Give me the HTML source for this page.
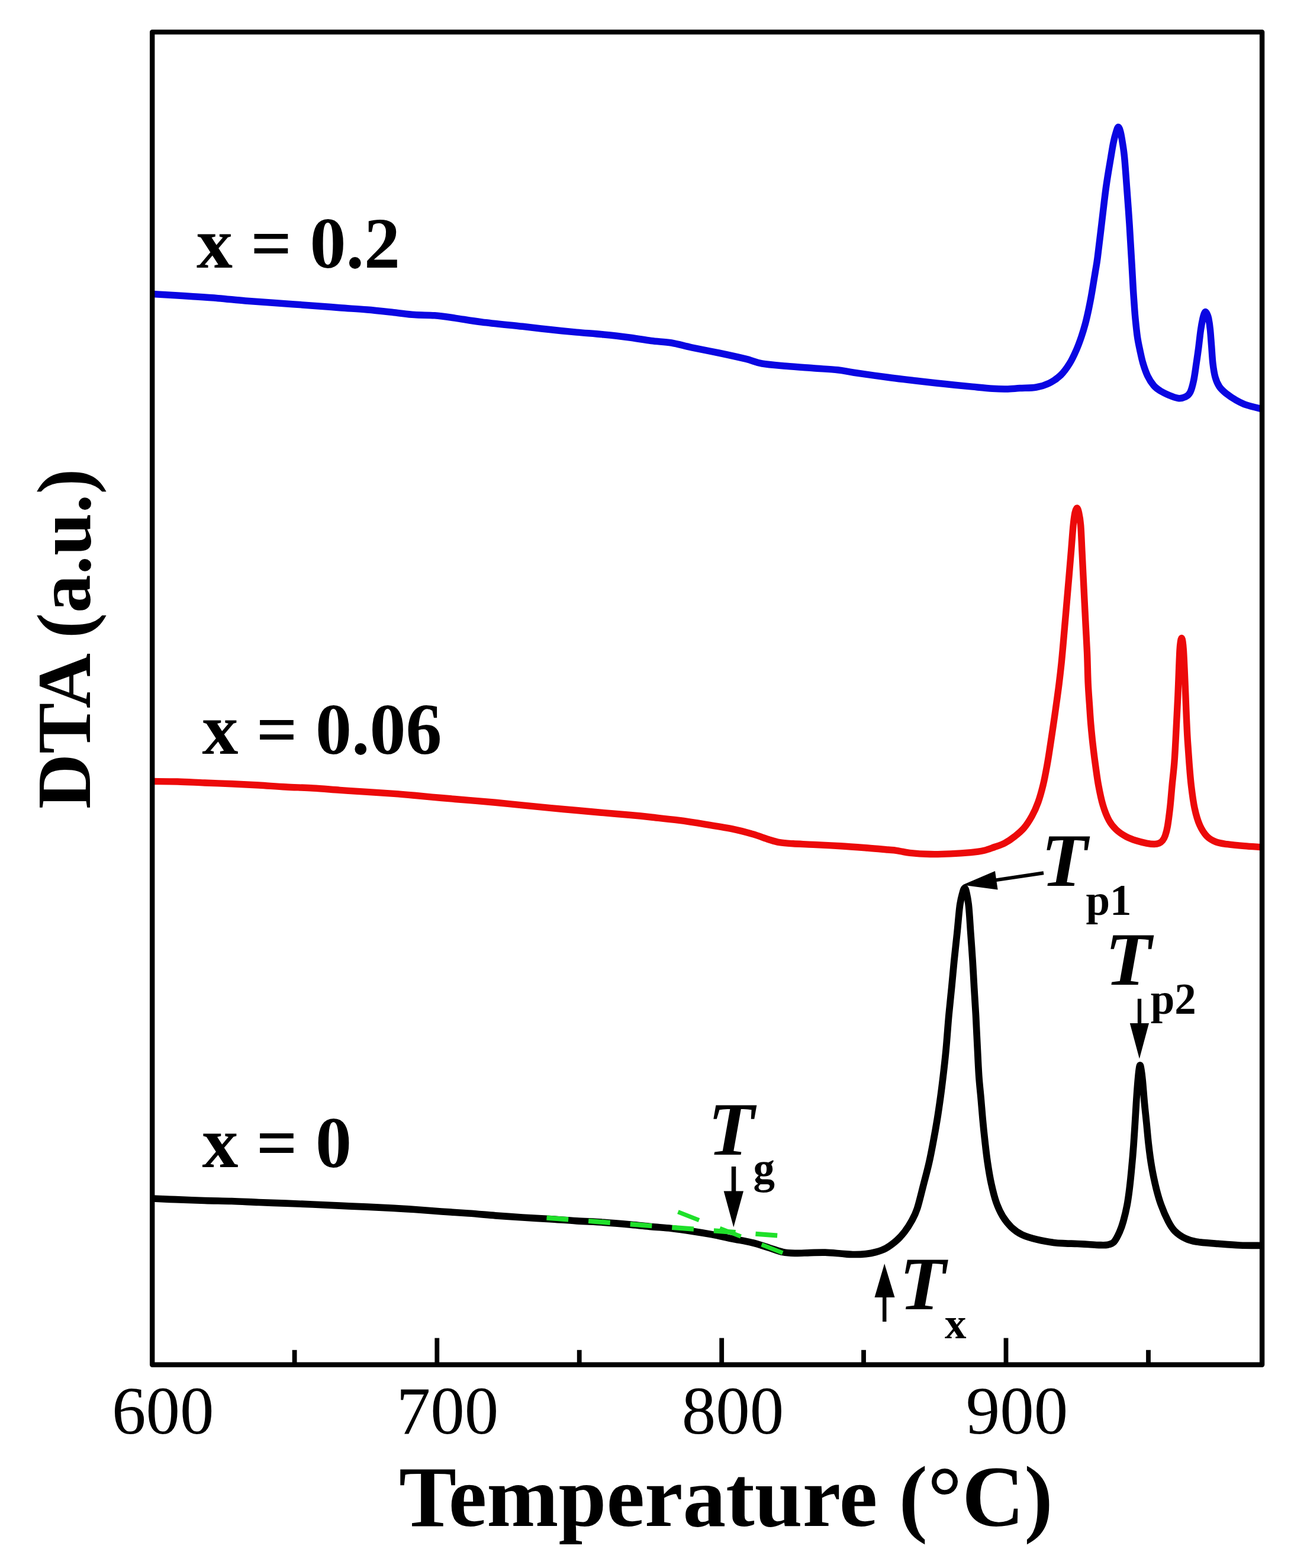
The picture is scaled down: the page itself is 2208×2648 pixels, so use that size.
<!DOCTYPE html>
<html lang="en">
<head>
<meta charset="utf-8">
<title>DTA curves</title>
<style>
html,body{margin:0;padding:0;background:#fff}
svg{display:block}
</style>
</head>
<body>
<svg width="2208" height="2648" viewBox="0 0 2208 2648" role="img" aria-label="DTA curves versus temperature for x = 0, 0.06 and 0.2">
<rect width="2208" height="2648" fill="#fff"/>
<defs><clipPath id="plot"><rect x="257.2" y="54.1" width="1874.9" height="2250.6"/></clipPath></defs>
<g fill="none" stroke-linejoin="round" stroke-linecap="butt" clip-path="url(#plot)">
<path d="M257.0 496.5C263.5 496.9 285.0 498.1 296.0 498.8C307.0 499.5 310.7 499.7 322.8 500.5C334.9 501.3 353.3 502.4 368.5 503.7C383.7 504.9 398.9 506.8 414.2 508.0C429.4 509.2 441.0 509.8 460.0 511.2C479.0 512.6 509.4 514.8 528.4 516.2C547.4 517.6 558.8 518.6 574.1 519.7C589.4 520.9 604.8 521.8 620.0 523.1C635.2 524.4 652.2 526.3 665.5 527.7C678.8 529.1 688.5 530.8 700.0 531.6C711.5 532.5 722.9 531.9 734.3 532.8C745.7 533.7 755.2 535.2 768.5 537.1C781.8 539.0 795.2 541.6 814.2 544.0C833.2 546.4 863.8 549.2 882.8 551.3C901.8 553.4 913.2 554.9 928.4 556.5C943.6 558.1 958.9 559.7 974.1 561.1C989.3 562.5 1004.6 563.5 1019.8 565.0C1035.0 566.5 1052.1 568.5 1065.5 570.2C1078.9 572.0 1088.5 574.0 1100.0 575.5C1111.5 577.0 1122.9 577.1 1134.3 579.0C1145.7 580.9 1155.2 584.0 1168.5 586.8C1181.8 589.6 1199.0 592.8 1214.2 596.0C1229.5 599.2 1247.8 603.2 1260.0 606.2C1272.2 609.2 1275.9 612.0 1287.3 614.0C1298.7 616.0 1313.9 617.0 1328.4 618.3C1342.9 619.6 1359.6 620.7 1374.1 621.8C1388.6 622.9 1403.8 623.5 1415.2 624.8C1426.6 626.0 1428.6 627.2 1442.7 629.3C1456.8 631.4 1481.9 634.9 1500.0 637.3C1518.1 639.7 1535.2 641.6 1551.4 643.5C1567.6 645.4 1581.8 646.9 1597.0 648.5C1612.2 650.1 1629.5 651.8 1642.8 653.1C1656.1 654.4 1667.5 655.6 1677.0 656.3C1686.5 656.9 1692.3 657.1 1699.9 657.0C1707.5 656.9 1714.3 656.1 1722.7 655.6C1731.1 655.1 1742.1 655.5 1750.5 654.0C1758.9 652.5 1766.1 650.2 1773.0 646.8C1779.9 643.4 1786.3 639.0 1792.0 633.5C1797.7 628.0 1802.6 620.9 1807.0 613.8C1811.4 606.7 1815.2 598.2 1818.5 590.7C1821.8 583.2 1824.4 575.9 1826.9 568.5C1829.4 561.1 1831.6 553.6 1833.6 546.2C1835.6 538.8 1837.2 531.4 1838.8 524.0C1840.4 516.6 1841.8 509.1 1843.2 501.7C1844.6 494.3 1845.8 486.8 1847.0 479.4C1848.2 471.9 1849.5 464.4 1850.7 457.0C1851.9 449.6 1852.5 447.9 1854.2 434.8C1855.9 421.7 1858.6 398.3 1861.0 378.4C1863.4 358.5 1866.0 334.4 1868.6 315.6C1871.2 296.8 1874.6 277.9 1876.7 265.4C1878.8 252.8 1879.6 247.3 1881.1 240.3C1882.5 233.3 1884.0 227.8 1885.4 223.5C1886.8 219.2 1888.0 214.5 1889.3 214.5C1890.6 214.5 1891.9 219.2 1893.1 223.5C1894.2 227.8 1895.1 233.3 1896.2 240.3C1897.3 247.3 1898.4 252.8 1899.6 265.4C1900.8 277.9 1902.1 296.8 1903.5 315.6C1904.9 334.4 1906.7 358.2 1908.0 378.4C1909.3 398.6 1910.4 418.6 1911.5 437.0C1912.6 455.4 1913.6 475.6 1914.4 488.6C1915.2 501.6 1915.6 506.4 1916.2 515.0C1916.8 523.6 1917.3 531.1 1918.2 540.0C1919.1 548.9 1920.2 560.0 1921.4 568.5C1922.6 577.0 1924.0 583.3 1925.6 590.7C1927.2 598.1 1928.6 605.6 1930.8 613.0C1933.0 620.4 1935.8 628.7 1938.8 635.0C1941.8 641.3 1945.5 646.8 1949.0 651.0C1952.5 655.2 1955.7 657.2 1960.0 660.0C1964.3 662.8 1970.0 665.4 1975.0 667.5C1980.0 669.6 1985.7 672.0 1990.3 672.5C1994.9 673.0 1999.4 671.9 2002.8 670.2C2006.2 668.5 2008.5 666.8 2010.8 662.2C2013.1 657.6 2014.8 650.8 2016.5 642.8C2018.2 634.8 2019.6 623.7 2021.0 614.2C2022.4 604.7 2023.8 595.2 2025.0 585.7C2026.2 576.2 2027.3 565.0 2028.5 557.0C2029.7 549.0 2031.0 542.2 2032.0 537.7C2033.0 533.2 2033.5 531.9 2034.2 530.0C2035.0 528.1 2035.7 526.5 2036.5 526.5C2037.3 526.5 2038.1 528.1 2039.0 530.0C2039.9 531.9 2040.8 533.2 2041.7 537.7C2042.6 542.2 2043.7 549.0 2044.5 557.0C2045.3 565.0 2046.0 576.2 2046.8 585.7C2047.5 595.2 2048.0 605.7 2049.0 614.2C2050.0 622.8 2051.2 630.5 2053.0 637.0C2054.8 643.5 2056.9 648.4 2060.0 653.0C2063.1 657.6 2066.7 660.7 2071.4 664.5C2076.2 668.3 2082.8 672.7 2088.5 675.9C2094.2 679.1 2098.2 681.4 2105.6 683.9C2113.0 686.4 2128.4 689.8 2133.0 691.0" stroke="#0a06e2" stroke-width="11.5"/>
<path d="M257.0 1319.5C264.2 1319.6 285.2 1319.6 300.0 1320.0C314.8 1320.4 330.5 1321.4 345.7 1322.0C360.9 1322.6 376.2 1323.0 391.4 1323.7C406.6 1324.4 421.8 1325.1 437.0 1326.0C452.2 1326.9 467.6 1328.2 482.8 1329.0C498.0 1329.8 513.2 1330.1 528.4 1331.0C543.6 1331.9 558.8 1333.3 574.1 1334.4C589.4 1335.5 604.8 1336.4 620.0 1337.4C635.2 1338.4 652.2 1339.4 665.5 1340.4C678.8 1341.4 686.6 1342.1 700.0 1343.3C713.4 1344.5 730.5 1346.2 745.7 1347.5C760.9 1348.8 776.2 1350.1 791.4 1351.4C806.6 1352.7 821.8 1353.9 837.0 1355.3C852.2 1356.7 867.6 1358.4 882.8 1359.9C898.0 1361.4 913.2 1363.0 928.4 1364.4C943.6 1365.8 958.9 1367.1 974.1 1368.5C989.3 1369.9 1004.6 1371.3 1019.8 1372.6C1035.0 1373.9 1052.1 1375.3 1065.5 1376.5C1078.9 1377.7 1086.6 1378.5 1100.0 1380.0C1113.4 1381.5 1130.5 1383.2 1145.7 1385.2C1160.9 1387.2 1176.2 1389.6 1191.4 1392.1C1206.6 1394.5 1223.7 1397.2 1237.0 1399.9C1250.3 1402.6 1261.0 1405.5 1271.3 1408.5C1281.6 1411.5 1291.1 1415.3 1298.7 1417.7C1306.3 1420.1 1310.1 1421.5 1317.0 1422.7C1323.9 1423.9 1330.4 1424.2 1339.9 1424.8C1349.4 1425.4 1360.8 1425.7 1374.1 1426.4C1387.4 1427.1 1404.6 1427.9 1419.8 1428.8C1435.0 1429.7 1452.1 1431.0 1465.5 1432.0C1478.9 1433.0 1491.9 1434.3 1500.0 1435.0C1508.1 1435.7 1508.0 1435.4 1514.2 1436.3C1520.4 1437.2 1527.5 1439.3 1537.0 1440.3C1546.5 1441.3 1559.9 1442.2 1571.3 1442.5C1582.7 1442.8 1594.2 1442.4 1605.6 1441.9C1617.0 1441.4 1630.4 1440.5 1639.9 1439.6C1649.4 1438.7 1656.0 1437.8 1662.7 1436.3C1669.4 1434.8 1674.3 1432.5 1680.0 1430.5C1685.7 1428.5 1691.4 1427.0 1697.1 1424.0C1702.8 1421.0 1708.9 1416.8 1714.3 1412.5C1719.7 1408.2 1724.8 1404.2 1729.7 1398.5C1734.6 1392.8 1739.4 1385.2 1743.4 1378.0C1747.4 1370.8 1750.6 1363.7 1753.7 1355.0C1756.8 1346.3 1759.6 1336.2 1762.2 1325.6C1764.8 1315.0 1767.0 1302.7 1769.1 1291.3C1771.2 1279.9 1772.8 1268.4 1774.6 1257.0C1776.4 1245.6 1778.0 1234.2 1779.7 1222.8C1781.4 1211.4 1783.0 1199.9 1784.6 1188.5C1786.2 1177.1 1787.8 1165.7 1789.2 1154.3C1790.6 1142.9 1792.0 1130.7 1793.1 1120.0C1794.2 1109.3 1795.0 1100.2 1795.9 1090.0C1796.8 1079.8 1797.5 1071.0 1798.6 1058.6C1799.7 1046.2 1801.1 1030.0 1802.3 1015.7C1803.5 1001.4 1804.8 987.2 1806.0 972.9C1807.2 958.6 1808.4 944.3 1809.6 930.0C1810.8 915.7 1812.0 897.8 1813.1 887.1C1814.2 876.4 1815.0 870.9 1816.0 866.0C1817.0 861.1 1818.2 858.0 1819.3 858.0C1820.4 858.0 1821.5 861.1 1822.6 866.0C1823.7 870.9 1824.8 876.4 1825.7 887.1C1826.6 897.8 1827.2 915.7 1827.9 930.0C1828.6 944.3 1829.3 958.6 1830.0 972.9C1830.7 987.2 1831.4 1001.4 1832.1 1015.7C1832.8 1030.0 1833.6 1044.3 1834.3 1058.6C1835.0 1072.9 1835.8 1085.5 1836.5 1101.4C1837.2 1117.4 1837.5 1139.8 1838.2 1154.3C1838.9 1168.8 1839.6 1177.1 1840.4 1188.5C1841.2 1199.9 1841.8 1211.4 1842.8 1222.8C1843.8 1234.2 1844.9 1245.6 1846.2 1257.0C1847.5 1268.4 1848.9 1279.9 1850.5 1291.3C1852.1 1302.7 1853.5 1314.2 1855.6 1325.6C1857.7 1337.0 1860.3 1349.9 1863.3 1359.9C1866.3 1369.9 1869.9 1378.8 1873.6 1385.6C1877.3 1392.4 1880.8 1396.4 1885.6 1401.0C1890.4 1405.6 1897.0 1409.9 1902.7 1413.0C1908.4 1416.1 1914.2 1418.0 1919.9 1419.8C1925.6 1421.6 1932.0 1423.1 1937.0 1424.1C1942.0 1425.0 1946.5 1425.5 1950.0 1425.5C1953.5 1425.5 1955.7 1425.0 1958.0 1424.0C1960.3 1423.0 1962.2 1421.7 1964.0 1419.5C1965.8 1417.3 1967.1 1415.1 1968.5 1411.0C1969.9 1406.9 1971.2 1402.7 1972.5 1395.0C1973.8 1387.3 1975.2 1376.3 1976.5 1365.0C1977.8 1353.7 1978.8 1339.7 1980.0 1327.0C1981.2 1314.3 1982.8 1301.3 1983.8 1288.6C1984.8 1275.8 1985.4 1263.2 1986.1 1250.5C1986.8 1237.8 1987.4 1225.1 1988.0 1212.4C1988.6 1199.7 1989.3 1187.0 1989.9 1174.3C1990.5 1161.6 1990.9 1148.9 1991.4 1136.2C1991.9 1123.5 1992.5 1106.9 1993.0 1098.0C1993.5 1089.1 1994.0 1086.4 1994.5 1083.0C1995.0 1079.6 1995.6 1077.5 1996.2 1077.5C1996.8 1077.5 1997.4 1079.6 1997.9 1083.0C1998.4 1086.4 1998.8 1089.1 1999.4 1098.0C2000.0 1106.9 2000.7 1123.5 2001.3 1136.2C2001.9 1148.9 2002.4 1161.6 2002.9 1174.3C2003.4 1187.0 2003.8 1199.7 2004.4 1212.4C2005.0 1225.1 2005.5 1237.8 2006.3 1250.5C2007.1 1263.2 2008.0 1275.9 2009.0 1288.6C2010.0 1301.3 2010.9 1314.0 2012.4 1326.7C2013.9 1339.4 2015.7 1353.7 2018.1 1364.8C2020.5 1375.9 2023.2 1385.4 2026.7 1393.3C2030.2 1401.2 2034.4 1407.6 2039.0 1412.4C2043.6 1417.2 2048.6 1419.7 2054.3 1421.9C2060.0 1424.1 2065.4 1424.6 2073.3 1425.7C2081.2 1426.8 2092.0 1427.8 2101.9 1428.6C2111.8 1429.4 2127.8 1430.4 2133.0 1430.8" stroke="#ec0a0a" stroke-width="11.4"/>
<path d="M257.0 2024.0C263.5 2024.3 281.2 2025.1 296.0 2025.7C310.8 2026.3 329.8 2027.0 345.7 2027.5C361.6 2028.0 376.2 2028.0 391.4 2028.5C406.6 2029.0 421.8 2029.9 437.0 2030.5C452.2 2031.1 467.6 2031.5 482.8 2032.1C498.0 2032.7 513.2 2033.3 528.4 2034.0C543.6 2034.7 558.8 2035.5 574.1 2036.2C589.4 2036.9 604.8 2037.4 620.0 2038.1C635.2 2038.8 652.2 2039.7 665.5 2040.4C678.8 2041.1 686.6 2041.6 700.0 2042.5C713.4 2043.4 730.5 2044.9 745.7 2046.0C760.9 2047.1 776.2 2047.9 791.4 2049.0C806.6 2050.1 821.8 2051.6 837.0 2052.8C852.2 2054.0 867.6 2055.0 882.8 2056.0C898.0 2057.0 913.2 2057.6 928.4 2058.6C943.6 2059.6 958.9 2060.9 974.1 2061.8C989.3 2062.8 1004.6 2063.2 1019.8 2064.3C1035.0 2065.4 1052.1 2066.9 1065.5 2068.1C1078.9 2069.3 1088.5 2070.5 1100.0 2071.6C1111.5 2072.7 1122.9 2073.2 1134.3 2074.5C1145.7 2075.8 1157.1 2077.4 1168.5 2079.1C1179.9 2080.8 1191.4 2082.7 1202.8 2084.8C1214.2 2087.0 1225.6 2089.7 1237.0 2092.0C1248.4 2094.3 1260.8 2096.2 1271.3 2098.8C1281.8 2101.4 1291.5 2104.9 1300.0 2107.5C1308.5 2110.1 1315.4 2113.0 1322.5 2114.5C1329.6 2116.0 1335.1 2116.2 1342.8 2116.4C1350.5 2116.6 1359.9 2115.8 1368.5 2115.6C1377.1 2115.4 1385.6 2115.0 1394.2 2115.2C1402.8 2115.4 1412.3 2116.4 1420.0 2117.0C1427.7 2117.6 1433.4 2118.4 1440.5 2118.5C1447.6 2118.6 1456.3 2118.3 1462.8 2117.6C1469.3 2116.9 1473.8 2116.1 1479.5 2114.5C1485.2 2112.9 1491.1 2111.1 1497.0 2107.8C1502.9 2104.5 1509.8 2099.2 1515.0 2094.6C1520.2 2090.0 1523.8 2085.9 1528.0 2080.5C1532.2 2075.1 1536.4 2068.6 1540.0 2062.0C1543.6 2055.4 1546.1 2051.4 1549.5 2041.0C1552.9 2030.5 1557.1 2012.3 1560.5 1999.3C1563.9 1986.3 1567.0 1975.0 1569.7 1962.8C1572.5 1950.6 1574.7 1938.4 1577.0 1926.2C1579.3 1914.0 1581.4 1901.9 1583.4 1889.7C1585.4 1877.5 1587.1 1865.3 1588.8 1853.1C1590.5 1840.9 1591.8 1830.1 1593.4 1816.6C1595.0 1803.1 1596.6 1789.1 1598.2 1772.0C1599.8 1754.9 1601.4 1731.1 1603.0 1713.8C1604.6 1696.5 1606.1 1683.3 1607.6 1668.1C1609.1 1652.9 1610.4 1637.6 1611.9 1622.4C1613.4 1607.2 1615.2 1591.9 1616.8 1576.7C1618.4 1561.5 1619.8 1542.4 1621.3 1531.0C1622.8 1519.6 1624.6 1513.7 1626.0 1508.5C1627.4 1503.3 1628.5 1499.8 1629.7 1499.8C1630.9 1499.8 1631.8 1503.3 1633.0 1508.5C1634.2 1513.7 1635.4 1519.6 1636.6 1531.0C1637.8 1542.4 1638.8 1561.5 1639.9 1576.7C1641.0 1591.9 1642.1 1607.2 1643.1 1622.4C1644.1 1637.6 1644.8 1652.9 1645.7 1668.1C1646.6 1683.3 1647.6 1697.6 1648.5 1713.8C1649.4 1730.0 1650.1 1747.9 1651.0 1765.0C1651.9 1782.1 1652.7 1801.9 1653.7 1816.6C1654.7 1831.3 1655.9 1840.9 1657.0 1853.1C1658.1 1865.3 1659.0 1877.5 1660.1 1889.7C1661.2 1901.9 1662.4 1914.0 1663.8 1926.2C1665.2 1938.4 1666.5 1950.6 1668.3 1962.8C1670.1 1975.0 1672.2 1988.0 1674.7 1999.3C1677.2 2010.6 1679.8 2021.3 1683.0 2030.4C1686.2 2039.5 1689.7 2047.1 1693.9 2054.1C1698.2 2061.1 1703.0 2067.2 1708.5 2072.4C1714.0 2077.6 1719.5 2081.7 1726.8 2085.2C1734.1 2088.7 1743.5 2091.2 1752.4 2093.4C1761.3 2095.6 1772.1 2097.4 1780.0 2098.5C1787.9 2099.6 1793.3 2099.5 1800.0 2099.8C1806.7 2100.1 1813.6 2100.2 1820.0 2100.5C1826.4 2100.8 1832.2 2101.2 1838.3 2101.5C1844.4 2101.8 1851.0 2102.5 1856.5 2102.6C1862.0 2102.7 1866.9 2103.1 1871.2 2102.2C1875.5 2101.3 1878.8 2100.7 1882.1 2097.1C1885.4 2093.5 1888.7 2086.5 1891.3 2080.7C1893.9 2074.9 1895.6 2070.0 1897.7 2062.4C1899.8 2054.8 1902.4 2044.1 1904.1 2035.0C1905.8 2025.9 1906.8 2018.3 1908.1 2007.6C1909.4 1996.9 1910.8 1983.2 1911.9 1971.0C1913.1 1958.8 1914.1 1946.7 1915.0 1934.5C1915.9 1922.3 1916.6 1910.1 1917.4 1897.9C1918.2 1885.7 1918.8 1873.6 1919.6 1861.4C1920.4 1849.2 1921.5 1834.0 1922.3 1824.8C1923.1 1815.6 1923.6 1810.8 1924.2 1806.5C1924.8 1802.2 1925.4 1798.8 1926.0 1798.8C1926.6 1798.8 1927.2 1802.2 1927.9 1806.5C1928.6 1810.8 1929.3 1815.6 1930.2 1824.8C1931.1 1834.0 1932.2 1849.2 1933.3 1861.4C1934.4 1873.6 1935.8 1885.7 1937.0 1897.9C1938.2 1910.1 1939.1 1922.3 1940.6 1934.5C1942.0 1946.7 1943.6 1958.8 1945.7 1971.0C1947.8 1983.2 1950.8 1996.9 1953.4 2007.6C1956.1 2018.3 1958.2 2025.9 1961.6 2035.0C1964.9 2044.1 1969.7 2055.1 1973.5 2062.4C1977.3 2069.7 1979.6 2073.9 1984.5 2078.8C1989.4 2083.7 1996.7 2088.6 2002.8 2091.6C2008.9 2094.6 2011.9 2095.6 2021.0 2097.1C2030.1 2098.6 2045.4 2099.4 2057.6 2100.4C2069.8 2101.4 2081.5 2102.5 2094.1 2103.0C2106.7 2103.5 2126.5 2103.4 2133.0 2103.5" stroke="#000" stroke-width="11.7"/>
<path d="M923.5 2056.6L1314 2086.6" stroke="#1fe02a" stroke-width="8.2" stroke-dasharray="36.8 34"/>
<path d="M1145.4 2046.6L1322.7 2116" stroke="#1fe02a" stroke-width="7.2" stroke-dasharray="38.2 37.66"/>
</g>
<rect x="257.2" y="54.1" width="1874.9" height="2250.6" fill="none" stroke="#000" stroke-width="8.4" stroke-linejoin="round"/>
<g stroke="#000" stroke-width="7.8">
<line x1="738.3" y1="2304" x2="738.3" y2="2259.6"/>
<line x1="1219.2" y1="2304" x2="1219.2" y2="2259.6"/>
<line x1="1699.5" y1="2304" x2="1699.5" y2="2259.6"/>
<line x1="497.6" y1="2304" x2="497.6" y2="2279.8"/>
<line x1="978.7" y1="2304" x2="978.7" y2="2279.8"/>
<line x1="1459.0" y1="2304" x2="1459.0" y2="2279.8"/>
<line x1="1940.0" y1="2304" x2="1940.0" y2="2279.8"/>
</g>
<g fill="#000" stroke="#000">
<line x1="1239.5" y1="1970" x2="1239.5" y2="2014" stroke-width="7.5"/>
<polygon points="1222.7,2011.5 1256,2011.5 1239.3,2072.5" stroke="none"/>
<line x1="1494.2" y1="2232" x2="1494.2" y2="2188" stroke-width="6.5"/>
<polygon points="1477.5,2191 1511.5,2191 1494.2,2134" stroke="none"/>
<line x1="1925" y1="1686.7" x2="1925" y2="1731" stroke-width="6.3"/>
<polygon points="1908.8,1728 1941,1728 1924.9,1788" stroke="none"/>
<line x1="1763" y1="1474.2" x2="1680" y2="1486.6" stroke-width="6"/>
<polygon points="1626,1494.6 1681,1471 1685.6,1502.5" stroke="none"/>
</g>
<g font-family="'Liberation Serif','Times New Roman',serif" fill="#000">
<text x="275.3" y="2421" font-size="115" text-anchor="middle">600</text>
<text x="756.0" y="2421" font-size="115" text-anchor="middle">700</text>
<text x="1238.0" y="2421" font-size="115" text-anchor="middle">800</text>
<text x="1718.0" y="2421" font-size="115" text-anchor="middle">900</text>
<g font-weight="bold">
<text x="674" y="2576.5" font-size="145.5">Temperature (°C)</text>
<text transform="translate(151.5 1366) rotate(-90)" font-size="129">DTA (a.u.)</text>
<text x="332" y="452" font-size="122">x = 0.2</text>
<text x="341.5" y="1272.5" font-size="122">x = 0.06</text>
<text x="341.5" y="1971" font-size="122">x = 0</text>
<g font-size="128" font-style="italic">
<text x="1196" y="1949.5">T<tspan x="1272.5" y="1998" font-size="73" font-style="normal">g</tspan></text>
<text x="1759" y="1495.5">T<tspan x="1834.5" y="1545.3" font-size="73" font-style="normal">p1</tspan></text>
<text x="1867" y="1663">T<tspan x="1943.7" y="1712" font-size="73" font-style="normal">p2</tspan></text>
<text x="1519.5" y="2210.5">T<tspan x="1596" y="2259.5" font-size="73" font-style="normal">x</tspan></text>
</g>
</g></g>
</svg>
</body>
</html>
